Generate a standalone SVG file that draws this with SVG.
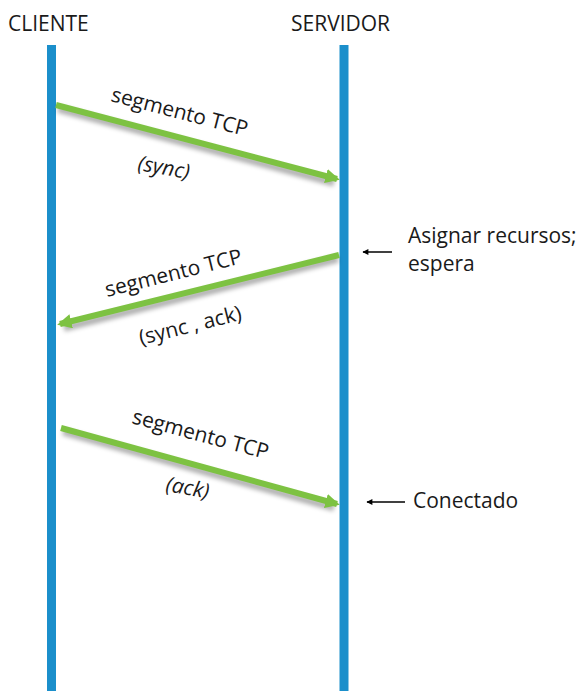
<svg xmlns="http://www.w3.org/2000/svg" width="583" height="691" viewBox="0 0 583 691">
<defs>
<style>
text{font-family:"Open Sans","Liberation Sans",sans-serif;fill:#1a1a1a;font-size:21px}
.it{font-style:italic}
.life{stroke:#1b8fcb;stroke-width:9;fill:none}
.msg{stroke:#7dc242;stroke-width:6;fill:none}
.shadow{stroke:#000;stroke-opacity:0.3;stroke-width:7;fill:none;filter:url(#blur)}
.note{stroke:#000;stroke-width:1.5;fill:none}
</style>
<filter id="blur" x="-10%" y="-50%" width="120%" height="200%">
<feGaussianBlur stdDeviation="2"/>
</filter>
<marker id="gh" viewBox="0 0 10 10" refX="8" refY="5" markerWidth="2.4" markerHeight="2.4" orient="auto" markerUnits="strokeWidth">
<path d="M0,0 L10,5 L0,10 z" fill="#7dc242"/>
</marker>
<marker id="kh" viewBox="0 0 10 10" refX="9" refY="5" markerWidth="8" markerHeight="6" orient="auto" markerUnits="userSpaceOnUse">
<path d="M0,0 L10,5 L0,10 z" fill="#000"/>
</marker>
</defs>
<g id="cliente">
<text x="8" y="31">CLIENTE</text>
<line class="life" x1="51.5" y1="45" x2="51.5" y2="691"/>
</g>
<g id="servidor">
<text x="291" y="31">SERVIDOR</text>
<line class="life" x1="344" y1="45" x2="344" y2="691"/>
</g>
<g id="connectors">
<line class="shadow" x1="58" y1="109" x2="334" y2="183"/>
<line class="msg" x1="56" y1="105" x2="337" y2="179" marker-end="url(#gh)"/>
<line class="shadow" x1="338" y1="259" x2="64" y2="328"/>
<line class="msg" x1="339" y1="255" x2="60" y2="324" marker-end="url(#gh)"/>
<line class="shadow" x1="63" y1="432" x2="334" y2="508"/>
<line class="msg" x1="61" y1="428" x2="337" y2="504" marker-end="url(#gh)"/>
<line class="note" x1="392" y1="252" x2="363" y2="252" marker-end="url(#kh)"/>
<line class="note" x1="405" y1="502" x2="367" y2="502" marker-end="url(#kh)"/>
</g>
<g id="labels">
<text transform="translate(110,101) rotate(14.5)">segmento TCP</text>
<text class="it" transform="translate(137,170) rotate(10)">(sync)</text>
<text transform="translate(107,297) rotate(-14)">segmento TCP</text>
<text transform="translate(141,345) rotate(-14)">(sync , ack)</text>
<text transform="translate(131,423) rotate(15)">segmento TCP</text>
<text class="it" transform="translate(165,491) rotate(10)">(ack)</text>
</g>
<g id="notes">
<text x="408" y="243">Asignar recursos;</text>
<text x="408" y="271">espera</text>
<text x="413" y="508">Conectado</text>
</g>
</svg>
